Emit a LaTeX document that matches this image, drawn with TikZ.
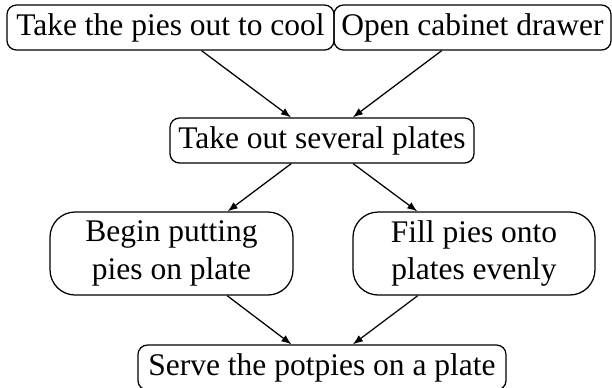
\documentclass[tikz,border=0pt]{standalone}
\usepackage{fontspec}
\setmainfont{Liberation Serif}
\usetikzlibrary{arrows.meta}
\tikzset{
  box/.style={draw, rounded corners=3pt, inner sep=0pt, minimum height=45*0.3175pt, align=center, font=\fontsize{10pt}{12pt}\selectfont},
  tallbox/.style={box, rounded corners=8pt, minimum height=83*0.3175pt},
  arr/.style={-{Latex[length=3.2pt,width=2.4pt]}}
}
\begin{document}
\begin{tikzpicture}[x=0.3175pt,y=-0.3175pt]
\useasboundingbox (0,0) rectangle (612,387);
\node[box, minimum width=327*0.3175pt] (A) at (170.5,27.5) {Take the pies out to cool};
\node[box, minimum width=277*0.3175pt] (B) at (472.5,27.5) {Open cabinet drawer};
\node[box, minimum width=304*0.3175pt] (C) at (322,140.5) {Take out several plates};
\node[tallbox, minimum width=243*0.3175pt] (D) at (171.5,253.5) {Begin putting\\pies on plate};
\node[tallbox, minimum width=242*0.3175pt] (E) at (474,253.5) {Fill pies onto\\plates evenly};
\node[box, minimum width=368*0.3175pt] (F) at (322,367.5) {Serve the potpies on a plate};
\draw[arr] (A) -- (C);
\draw[arr] (B) -- (C);
\draw[arr] (C) -- (D);
\draw[arr] (C) -- (E);
\draw[arr] (D) -- (F);
\draw[arr] (E) -- (F);
\end{tikzpicture}
\end{document}
